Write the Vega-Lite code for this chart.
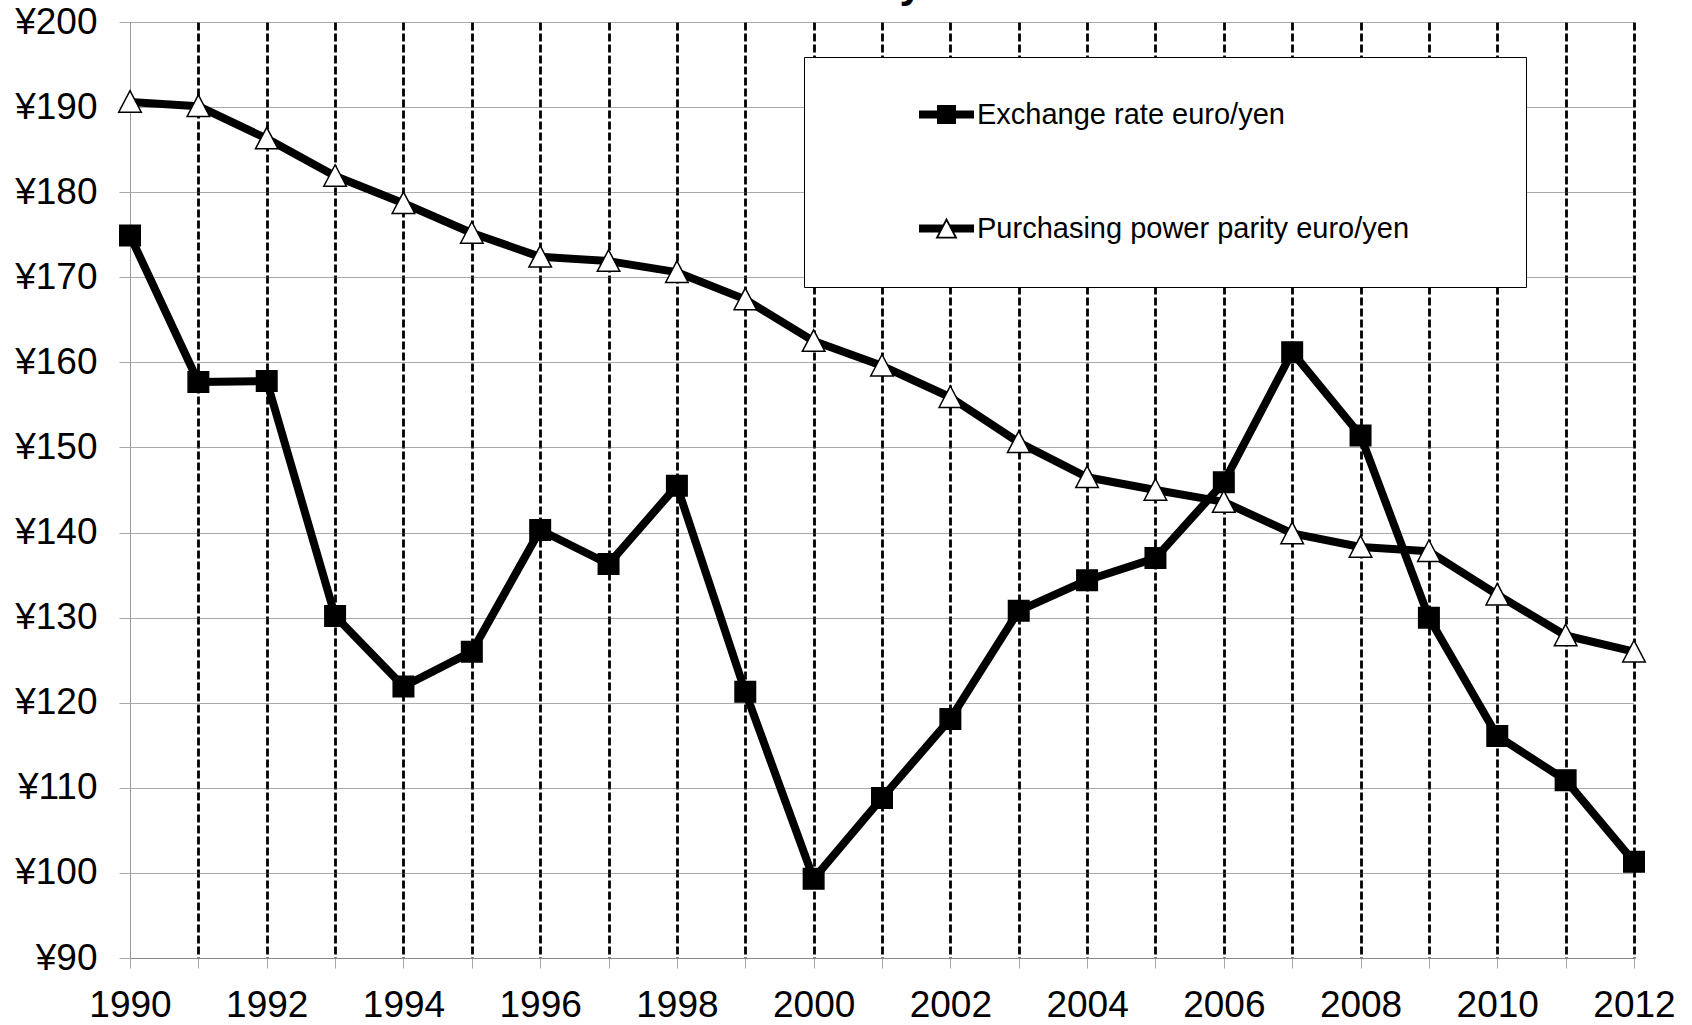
{
  "$schema": "https://vega.github.io/schema/vega-lite/v6.json",
  "width": 1504,
  "height": 936,
  "autosize": {"type": "none"},
  "padding": {"left": 130, "top": 22, "right": 58, "bottom": 67},
  "background": "white",
  "title": {"text": "Euro/yen", "fontSize": 42, "fontWeight": "bold", "font": "Liberation Sans", "anchor": "middle", "frame": "group", "baseline": "alphabetic", "offset": 4, "dy": 40, "color": "black"},
  "config": {"view": {"stroke": null}, "font": "Liberation Sans"},
  "data": {"values": [
    {"year": 1990, "series": "Exchange rate euro/yen", "value": 174.9},
    {"year": 1991, "series": "Exchange rate euro/yen", "value": 157.7},
    {"year": 1992, "series": "Exchange rate euro/yen", "value": 157.8},
    {"year": 1993, "series": "Exchange rate euro/yen", "value": 130.2},
    {"year": 1994, "series": "Exchange rate euro/yen", "value": 121.9},
    {"year": 1995, "series": "Exchange rate euro/yen", "value": 126.0},
    {"year": 1996, "series": "Exchange rate euro/yen", "value": 140.3},
    {"year": 1997, "series": "Exchange rate euro/yen", "value": 136.3},
    {"year": 1998, "series": "Exchange rate euro/yen", "value": 145.5},
    {"year": 1999, "series": "Exchange rate euro/yen", "value": 121.3},
    {"year": 2000, "series": "Exchange rate euro/yen", "value": 99.3},
    {"year": 2001, "series": "Exchange rate euro/yen", "value": 108.8},
    {"year": 2002, "series": "Exchange rate euro/yen", "value": 118.1},
    {"year": 2003, "series": "Exchange rate euro/yen", "value": 130.8},
    {"year": 2004, "series": "Exchange rate euro/yen", "value": 134.4},
    {"year": 2005, "series": "Exchange rate euro/yen", "value": 137.0},
    {"year": 2006, "series": "Exchange rate euro/yen", "value": 145.9},
    {"year": 2007, "series": "Exchange rate euro/yen", "value": 161.2},
    {"year": 2008, "series": "Exchange rate euro/yen", "value": 151.4},
    {"year": 2009, "series": "Exchange rate euro/yen", "value": 130.0},
    {"year": 2010, "series": "Exchange rate euro/yen", "value": 116.1},
    {"year": 2011, "series": "Exchange rate euro/yen", "value": 110.9},
    {"year": 2012, "series": "Exchange rate euro/yen", "value": 101.3},
    {"year": 1990, "series": "Purchasing power parity euro/yen", "value": 190.6},
    {"year": 1991, "series": "Purchasing power parity euro/yen", "value": 190.1},
    {"year": 1992, "series": "Purchasing power parity euro/yen", "value": 186.3},
    {"year": 1993, "series": "Purchasing power parity euro/yen", "value": 181.9},
    {"year": 1994, "series": "Purchasing power parity euro/yen", "value": 178.7},
    {"year": 1995, "series": "Purchasing power parity euro/yen", "value": 175.2},
    {"year": 1996, "series": "Purchasing power parity euro/yen", "value": 172.4},
    {"year": 1997, "series": "Purchasing power parity euro/yen", "value": 171.9},
    {"year": 1998, "series": "Purchasing power parity euro/yen", "value": 170.6},
    {"year": 1999, "series": "Purchasing power parity euro/yen", "value": 167.4},
    {"year": 2000, "series": "Purchasing power parity euro/yen", "value": 162.5},
    {"year": 2001, "series": "Purchasing power parity euro/yen", "value": 159.6},
    {"year": 2002, "series": "Purchasing power parity euro/yen", "value": 155.9},
    {"year": 2003, "series": "Purchasing power parity euro/yen", "value": 150.6},
    {"year": 2004, "series": "Purchasing power parity euro/yen", "value": 146.5},
    {"year": 2005, "series": "Purchasing power parity euro/yen", "value": 145.0},
    {"year": 2006, "series": "Purchasing power parity euro/yen", "value": 143.6},
    {"year": 2007, "series": "Purchasing power parity euro/yen", "value": 139.9},
    {"year": 2008, "series": "Purchasing power parity euro/yen", "value": 138.3},
    {"year": 2009, "series": "Purchasing power parity euro/yen", "value": 137.8},
    {"year": 2010, "series": "Purchasing power parity euro/yen", "value": 132.7},
    {"year": 2011, "series": "Purchasing power parity euro/yen", "value": 127.9},
    {"year": 2012, "series": "Purchasing power parity euro/yen", "value": 126.0}
  ]},
  "encoding": {
    "x": {
      "field": "year", "type": "quantitative",
      "scale": {"domain": [1990, 2012], "nice": false, "zero": false},
      "axis": {
        "title": null,
        "values": [1990,1991,1992,1993,1994,1995,1996,1997,1998,1999,2000,2001,2002,2003,2004,2005,2006,2007,2008,2009,2010,2011,2012],
        "format": "d",
        "labelExpr": "datum.value % 2 == 0 ? '' + datum.value : ''",
        "labelOverlap": false,
        "labelFlush": false,
        "labelFontSize": 37,
        "labelFont": "Liberation Sans",
        "labelColor": "black",
        "labelPadding": 19,
        "tickSize": 10,
        "tickColor": "#aaaaaa",
        "domainColor": "#888888",
        "domainWidth": 1,
        "grid": true,
        "gridColor": "black",
        "gridWidth": 2.8,
        "gridDash": [8, 3],
        "gridOpacity": {"condition": {"test": "datum.value == 1990", "value": 0}, "value": 1}
      }
    },
    "y": {
      "field": "value", "type": "quantitative",
      "scale": {"domain": [90, 200], "nice": false, "zero": false},
      "axis": {
        "title": null,
        "values": [90,100,110,120,130,140,150,160,170,180,190,200],
        "labelExpr": "'¥' + datum.value",
        "labelFontSize": 37,
        "labelFont": "Liberation Sans",
        "labelColor": "black",
        "labelPadding": 22,
        "tickSize": 11,
        "tickColor": "#aaaaaa",
        "domainColor": "#999999",
        "domainWidth": 1,
        "grid": true,
        "gridColor": "#555555",
        "gridWidth": 1,
        "gridDash": [1, 1]
      }
    }
  },
  "layer": [
    {
      "mark": {"type": "line", "color": "black", "strokeWidth": 8, "strokeJoin": "round", "strokeCap": "round"},
      "encoding": {"detail": {"field": "series"}}
    },
    {
      "mark": {"type": "point", "filled": true, "opacity": 1, "stroke": "black", "strokeWidth": 1.5, "size": 420},
      "encoding": {
        "fill": {"field": "series", "type": "nominal", "scale": {"domain": ["Exchange rate euro/yen", "Purchasing power parity euro/yen"], "range": ["black", "white"]}, "legend": null},
        "shape": {
          "field": "series", "type": "nominal",
          "scale": {"domain": ["Exchange rate euro/yen", "Purchasing power parity euro/yen"], "range": ["square", "M0,-1.1L1.1,1L-1.1,1Z"]},
          "legend": null
        }
      }
    },
    {
      "mark": {"type": "point", "filled": true, "opacity": 0, "color": "black", "size": 400},
      "encoding": {
        "shape": {
          "field": "series", "type": "nominal",
          "scale": {"domain": ["Exchange rate euro/yen", "Purchasing power parity euro/yen"], "range": ["M-2.75,-0.4H2.75V0.4H-2.75Z M-0.95,-0.95H0.95V0.95H-0.95Z M53.6,0Z", "M-2.75,-0.4L-0.367,-0.4L-0.786,0.4L-2.75,0.4Z M0.367,-0.4L2.75,-0.4L2.75,0.4L0.786,0.4Z M0,-1.1L1.1,1L-1.1,1Z M0,-0.71L-0.8,0.82L0.8,0.82Z M53.6,0Z"]},
          "legend": {
            "title": null,
            "orient": "none",
            "legendX": 674,
            "legendY": 35,
            "fillColor": "white",
            "strokeColor": "black",
            "padding": 43,
            "labelFontSize": 29,
            "labelFont": "Liberation Sans",
            "labelColor": "black",
            "labelLimit": 2000,
            "symbolSize": 400,
            "symbolOffset": 85,
            "labelOffset": 16,
            "rowPadding": 84,
            "symbolOpacity": 1,
            "symbolFillColor": "black",
            "symbolStrokeColor": "black",
            "symbolStrokeWidth": 0
          }
        }
      }
    }
  ],
  "resolve": {"scale": {"shape": "independent"}}
}
